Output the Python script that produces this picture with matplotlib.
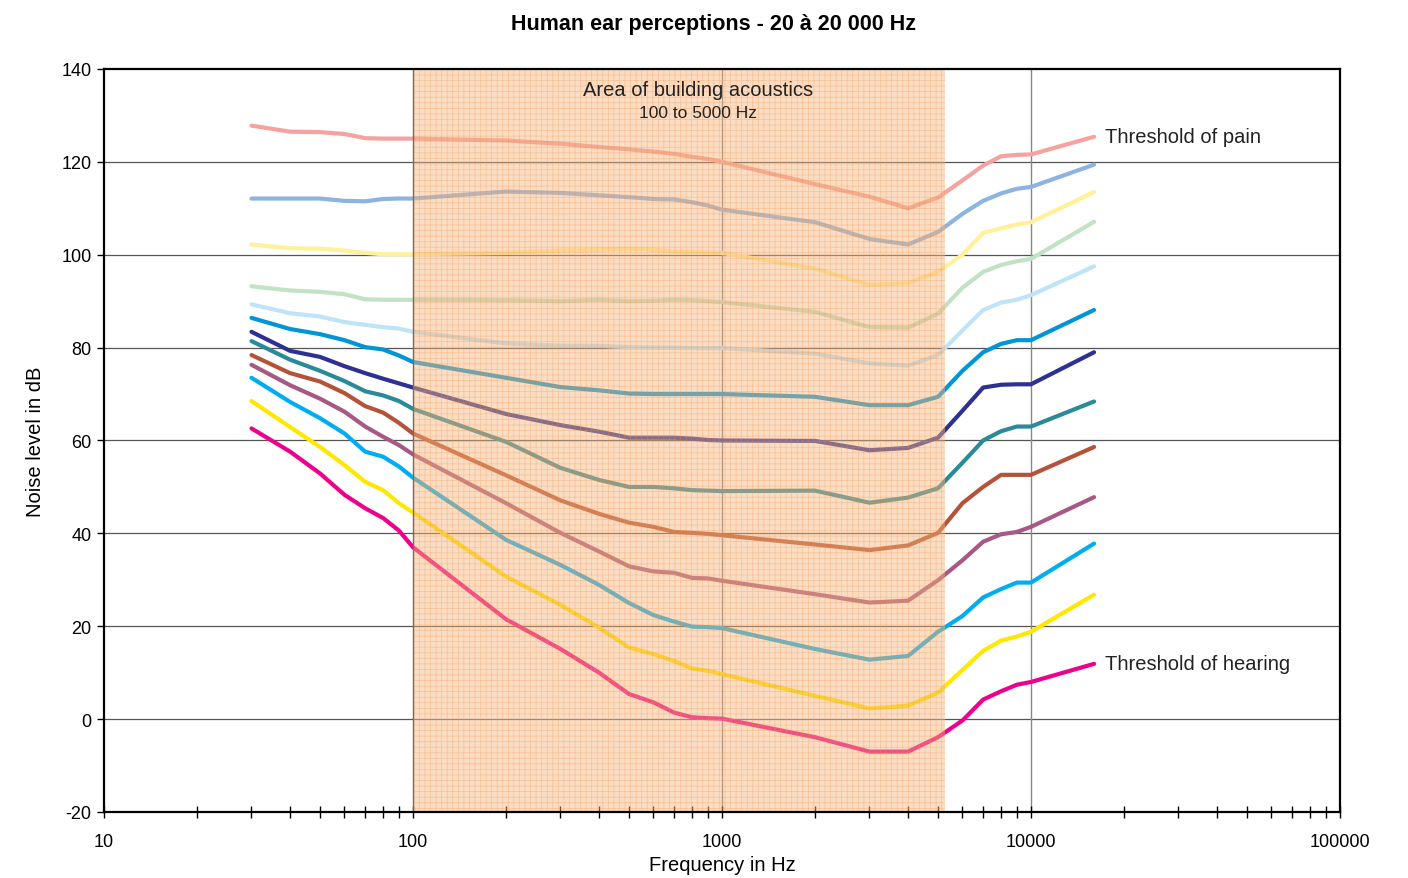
import matplotlib
matplotlib.use("Agg")
import matplotlib.pyplot as plt
from matplotlib.ticker import LogLocator, NullFormatter, FixedLocator
import numpy as np

plt.rcParams['font.family'] = ['Liberation Sans', 'DejaVu Sans']
plt.rcParams['axes.unicode_minus'] = False

freqs = [30, 40, 50, 60, 70, 80, 90, 100, 200, 300, 400, 500, 600, 700, 800, 900,
         1000, 2000, 3000, 4000, 5000, 6000, 7000, 8000, 9000, 10000, 16000]

pain = [127.8, 126.5, 126.4, 126.0, 125.1, 125.0, 125.0, 125.0, 124.6, 123.9, 123.2, 122.7, 122.2, 121.7, 121.1, 120.6,
        120.0, 115.2, 112.5, 110.0, 112.3, 116.0, 119.2, 121.2, 121.5, 121.6, 125.4]
c110 = [112.1, 112.1, 112.1, 111.6, 111.5, 112.0, 112.1, 112.1, 113.6, 113.3, 112.8, 112.4, 112.0, 111.9, 111.3, 110.6,
        109.7, 107.0, 103.4, 102.2, 104.9, 108.8, 111.6, 113.2, 114.2, 114.6, 119.4]
c100 = [102.2, 101.4, 101.3, 100.9, 100.4, 100.1, 100.1, 100.1, 100.4, 100.9, 101.1, 101.3, 101.1, 100.7, 100.6, 100.5,
        100.4, 97.0, 93.5, 93.9, 96.3, 100.0, 104.7, 105.7, 106.5, 107.0, 113.5]
c90 = [93.2, 92.3, 92.0, 91.5, 90.4, 90.3, 90.3, 90.3, 90.2, 90.0, 90.3, 90.0, 90.1, 90.3, 90.2, 90.0,
       89.8, 87.7, 84.4, 84.3, 87.3, 92.9, 96.3, 97.8, 98.6, 99.1, 107.1]
c80 = [89.3, 87.4, 86.7, 85.5, 84.9, 84.4, 84.1, 83.4, 80.9, 80.4, 80.4, 80.1, 80.0, 80.0, 79.9, 79.9,
       79.9, 78.7, 76.6, 76.1, 78.4, 83.7, 88.1, 89.7, 90.3, 91.3, 97.5]
c70 = [86.4, 84.0, 82.9, 81.6, 80.1, 79.6, 78.3, 76.9, 73.5, 71.5, 70.8, 70.1, 70.0, 70.0, 70.0, 70.0,
       70.0, 69.4, 67.6, 67.6, 69.4, 75.0, 79.0, 80.8, 81.6, 81.6, 88.1]
c60 = [83.4, 79.3, 78.0, 76.0, 74.5, 73.3, 72.3, 71.4, 65.7, 63.3, 61.9, 60.6, 60.6, 60.6, 60.4, 60.1,
       60.0, 59.9, 57.9, 58.4, 60.6, 66.4, 71.4, 72.0, 72.1, 72.1, 79.0]
c50 = [81.4, 77.4, 75.0, 72.8, 70.6, 69.7, 68.5, 66.8, 59.7, 54.1, 51.5, 50.0, 50.0, 49.7, 49.3, 49.2,
       49.1, 49.2, 46.6, 47.7, 49.7, 55.2, 60.0, 62.0, 63.0, 63.0, 68.4]
c40 = [78.4, 74.5, 72.7, 70.2, 67.4, 66.0, 63.8, 61.5, 52.5, 47.1, 44.2, 42.3, 41.4, 40.3, 40.1, 39.9,
       39.6, 37.6, 36.4, 37.4, 40.1, 46.5, 50.0, 52.6, 52.6, 52.6, 58.6]
c30 = [76.3, 71.9, 69.0, 66.2, 63.0, 60.8, 59.0, 57.0, 46.5, 40.1, 36.1, 32.9, 31.8, 31.5, 30.4, 30.3,
       29.8, 26.9, 25.1, 25.5, 29.9, 34.2, 38.2, 39.8, 40.3, 41.4, 47.8]
c20 = [73.5, 68.3, 64.8, 61.5, 57.6, 56.5, 54.4, 52.0, 38.6, 33.2, 28.9, 25.0, 22.4, 21.0, 19.9, 19.8,
       19.6, 15.1, 12.8, 13.6, 18.8, 22.2, 26.2, 28.0, 29.4, 29.4, 37.8]
c10 = [68.5, 62.9, 58.6, 54.7, 51.1, 49.3, 46.5, 44.5, 30.7, 24.6, 19.7, 15.4, 14.0, 12.5, 10.9, 10.4,
       9.7, 5.0, 2.3, 2.9, 5.7, 10.6, 14.7, 16.9, 17.8, 18.8, 26.8]
hearing = [62.6, 57.6, 52.9, 48.3, 45.4, 43.3, 40.6, 37.0, 21.5, 15.1, 10.0, 5.4, 3.6, 1.4, 0.4, 0.2,
           0.1, -3.9, -7.0, -7.0, -3.9, -0.3, 4.2, 6.0, 7.4, 8.0, 11.9]

series = [pain, c110, c100, c90, c80, c70, c60, c50, c40, c30, c20, c10, hearing]
colors = ['#F4A3A0', '#8DB3E0', '#FFF09A', '#C2E2C6', '#BFE4F8', '#0096D6', '#2E3192',
          '#2A8A98', '#B4533A', '#A65985', '#00AEEF', '#FFE800', '#EC008C']

band = (100, 5250)
title = "Human ear perceptions - 20 à 20 000 Hz"

fig = plt.figure(figsize=(14.08, 8.79), dpi=100)
ax = fig.add_axes([0.0739, 0.0751, 0.8778, 0.8453])
ax.set_xscale('log')
ax.set_xlim(10, 100000)
ax.set_ylim(-20, 140)

for ys, c in zip(series, colors):
    ax.plot(freqs, ys, color=c, lw=3.0, solid_joinstyle='round', solid_capstyle='round', zorder=2)

# shaded band over lines
ax.axvspan(band[0], band[1], facecolor='#F7B57E', alpha=0.45, edgecolor='none', zorder=3)
plt.rcParams['hatch.linewidth'] = 0.5
ax.axvspan(band[0], band[1], facecolor='none', edgecolor='#F08C3A', alpha=0.35,
           hatch='+++', lw=0, zorder=3)
ax.axvline(band[0], color='#7a6a5a', lw=1.0, zorder=3.5)

# grid
for yv in range(-20, 141, 20):
    if yv not in (-20, 140):
        ax.axhline(yv, color='#555555', lw=0.9, zorder=1.5)
for xv in (1000, 10000):
    ax.axvline(xv, color='#888888', lw=1.0, zorder=1.5)

ax.set_yticks(range(-20, 141, 20))
ax.xaxis.set_major_locator(FixedLocator([10, 100, 1000, 10000, 100000]))
ax.set_xticklabels(['10', '100', '1000', '10000', '100000'])
ax.xaxis.set_minor_locator(LogLocator(base=10, subs=np.arange(2, 10)))
ax.xaxis.set_minor_formatter(NullFormatter())
ax.tick_params(axis='x', which='major', direction='inout', length=8, width=1, labelsize=13, pad=11)
ax.tick_params(axis='x', which='minor', direction='inout', length=8, width=1)
ax.tick_params(axis='y', which='major', direction='out', length=5, width=1, labelsize=13, pad=4)
for s in ax.spines.values():
    s.set_linewidth(1.6)
    s.set_zorder(5)

ax.set_xlabel('Frequency in Hz', fontsize=14.5, labelpad=4)
ax.set_ylabel('Noise level in dB', fontsize=14.5, labelpad=12)
fig.text(0.507, 0.9725, title, ha='center', va='center', fontsize=15.5, fontweight='bold')

ax.text(0.4806, 0.9718, 'Area of building acoustics', transform=ax.transAxes,
        ha='center', va='center', fontsize=14.5, color='#222222', zorder=6)
ax.text(0.4806, 0.9408, '100 to 5000 Hz', transform=ax.transAxes,
        ha='center', va='center', fontsize=12.5, color='#222222', zorder=6)

ax.annotate('Threshold of pain', xy=(freqs[-1], pain[-1]), xytext=(8, 0),
            textcoords='offset points', ha='left', va='center', fontsize=14.5, color='#222222')
ax.annotate('Threshold of hearing', xy=(freqs[-1], hearing[-1]), xytext=(8, 0),
            textcoords='offset points', ha='left', va='center', fontsize=14.5, color='#222222')

fig.savefig('out.png', dpi=100)
